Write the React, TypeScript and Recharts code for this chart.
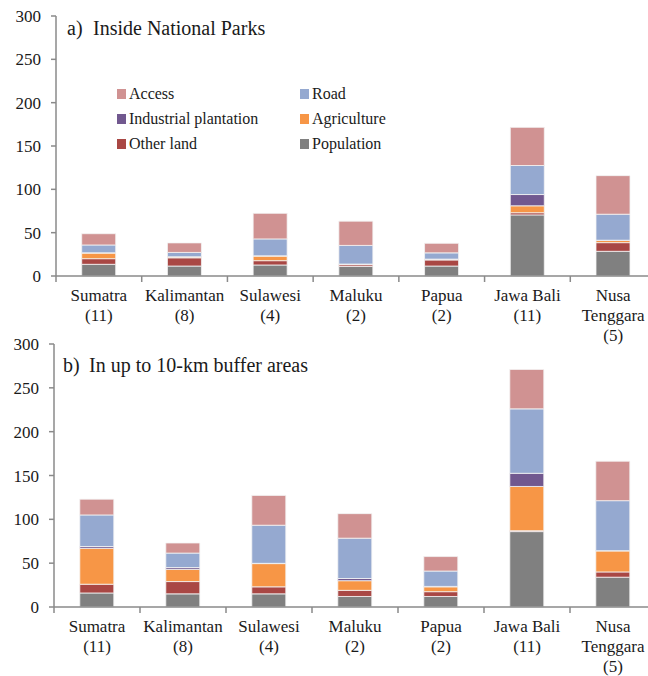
import React from 'react';
import { BarChart, Bar, XAxis, YAxis } from 'recharts';

const categories = ['Sumatra', 'Kalimantan', 'Sulawesi', 'Maluku', 'Papua', 'Jawa Bali', 'Nusa\nTenggara'];
const parkCounts = ['(11)', '(8)', '(4)', '(2)', '(2)', '(11)', '(5)'];
const yTicks = [0, 50, 100, 150, 200, 250, 300];

// series are listed bottom to top of the stack
const seriesNames = ['Population', 'Other land', 'Agriculture', 'Industrial plantation', 'Road', 'Access'];
const seriesColors = ['#808080', '#A94744', '#F79646', '#71588F', '#95A9D0', '#D09292'];

// a) inside national parks
const insidePopulation = [13.5, 11.5, 12.7, 11, 11.5, 70.5, 28.5];
const insideOtherLand = [6.5, 9.5, 5, 2, 7, 2.5, 10];
const insideAgriculture = [6.5, 1, 5.3, 0.5, 0.8, 8, 2.5];
const insideIndustrial = [0.3, 0.2, 0.3, 0.3, 0.2, 13, 0.3];
const insideRoad = [9, 5, 19.5, 21.5, 7.2, 33.5, 30];
const insideAccess = [13, 11, 29.5, 28, 11, 44, 44.5];

// b) up to 10-km buffer
const bufferPopulation = [16, 15, 15, 12, 12, 86, 34];
const bufferOtherLand = [10, 14, 8, 7, 5.5, 1, 6];
const bufferAgriculture = [41, 14, 26.5, 11, 5.5, 50.5, 24];
const bufferIndustrial = [2, 2, 0.3, 2.5, 0.5, 15, 0.3];
const bufferRoad = [36, 16.5, 43.5, 46, 17.5, 73.5, 57];
const bufferAccess = [18, 11.5, 34, 28, 16.5, 45, 45];

const buildRows = (series: number[][]) =>
  categories.map((name, i) => {
    const row: any = { name };
    seriesNames.forEach((s, k) => { row[s] = series[k][i]; });
    return row;
  });

const insideData = buildRows([insidePopulation, insideOtherLand, insideAgriculture, insideIndustrial, insideRoad, insideAccess]);
const bufferData = buildRows([bufferPopulation, bufferOtherLand, bufferAgriculture, bufferIndustrial, bufferRoad, bufferAccess]);

const FONT = '"Liberation Serif", "Times New Roman", serif';
const AXIS = '#8a8a8a';
const CHART_W = 656;

const makeTick = (step: number) => (props: any) => {
  const { x, y, payload, index } = props;
  const lines = [...String(payload.value).split('\n'), parkCounts[index]];
  const bx = x - step / 2;
  return (
    <g>
      <line x1={bx} x2={bx} y1={y} y2={y + 6} stroke={AXIS} strokeWidth={1.5} />
      <text x={x} y={y} textAnchor="middle" fontFamily={FONT} fontSize={17} fill="#1a1a1a">
        {lines.map((l, i) => (
          <tspan key={i} x={x} dy={i === 0 ? 25 : 20}>{l}</tspan>
        ))}
      </text>
    </g>
  );
};

const legendOrder = ['Access', 'Road', 'Industrial plantation', 'Agriculture', 'Other land', 'Population'];

const ChartLegend = () => (
  <div style={{ position: 'absolute', left: 117, top: 81, display: 'grid', gridTemplateColumns: '183px 183px', fontFamily: FONT, fontSize: 16, color: '#1a1a1a' }}>
    {legendOrder.map((s) => (
      <div key={s} style={{ display: 'flex', alignItems: 'center', height: 25 }}>
        <span style={{ width: 9, height: 10, background: seriesColors[seriesNames.indexOf(s)], marginRight: 3 }} />
        <span>{s}</span>
      </div>
    ))}
  </div>
);

const Panel = ({ data, height, top, bottom, axisW }: any) => {
  const step = (CHART_W - axisW) / categories.length;
  return (
    <BarChart width={CHART_W} height={height} data={data} margin={{ top, right: 0, left: 0, bottom }} barCategoryGap="30%">
      <XAxis
        dataKey="name"
        interval={0}
        tickSize={0}
        tickMargin={0}
        tickLine={false}
        height={54}
        axisLine={{ stroke: AXIS, strokeWidth: 1.5 }}
        tick={makeTick(step)}
      />
      <YAxis
        width={axisW}
        domain={[0, 300]}
        ticks={yTicks}
        interval={0}
        tickSize={5}
        tickMargin={10}
        axisLine={{ stroke: AXIS, strokeWidth: 1.5 }}
        tickLine={{ stroke: AXIS, strokeWidth: 1.5 }}
        tick={{ fontFamily: FONT, fontSize: 17, fill: '#1a1a1a' }}
      />
      {seriesNames.map((s, k) => (
        <Bar key={s} dataKey={s} stackId="a" fill={seriesColors[k]} stroke="#f4f4f4" strokeWidth={0.8} isAnimationActive={false} />
      ))}
    </BarChart>
  );
};

const App = () => (
  <div style={{ position: 'absolute', left: 0, top: 0, width: 648, height: 676, overflow: 'hidden', background: '#fff' }}>
    <div style={{ position: 'absolute', left: 0, top: 0 }}>
      <Panel data={insideData} height={346} top={16} bottom={16} axisW={56} />
    </div>
    <div style={{ position: 'absolute', left: 0, top: 330 }}>
      <Panel data={bufferData} height={346} top={14} bottom={15} axisW={54} />
    </div>
    <ChartLegend />
    <div style={{ position: 'absolute', left: 67, top: 17, fontFamily: FONT, fontSize: 20, lineHeight: '22px', color: '#1a1a1a', whiteSpace: 'pre' }}>
      a)<span style={{ position: 'absolute', left: 26 }}>Inside National Parks</span>
    </div>
    <div style={{ position: 'absolute', left: 63, top: 354, fontFamily: FONT, fontSize: 20, lineHeight: '22px', color: '#1a1a1a', whiteSpace: 'pre' }}>
      b)<span style={{ position: 'absolute', left: 26 }}>In up to 10-km buffer areas</span>
    </div>
  </div>
);

export default App;
